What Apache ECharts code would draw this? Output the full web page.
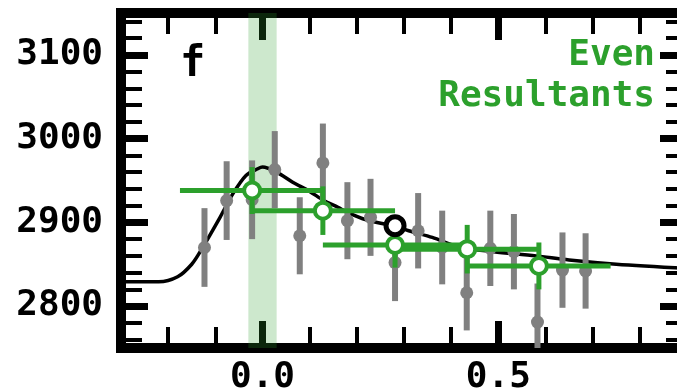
<!DOCTYPE html>
<html><head><meta charset="utf-8">
<script src="https://cdn.jsdelivr.net/npm/echarts@6/dist/echarts.min.js"></script>
<style>html,body{margin:0;padding:0;background:#fff;overflow:hidden;width:677px;height:392px}#c{width:700px;height:392px}</style>
</head><body><div id="c"></div>
<script>
// ---- data ----
const xMajorTicks = [0.0, 0.5];
const xMinorTicks = [-0.3, -0.2, -0.1, 0.1, 0.2, 0.3, 0.4, 0.6, 0.7, 0.8];
const yMajorTicks = [2800, 2900, 3000, 3100];
const yMinorTicks = [2760, 2780, 2820, 2840, 2860, 2880, 2920, 2940, 2960, 2980, 3020, 3040, 3060, 3080, 3120, 3140];

const curveX = [-0.30, -0.22, -0.18, -0.15, -0.13, -0.09, -0.063, -0.035, -0.01, 0.00, 0.03, 0.064, 0.10, 0.13, 0.16, 0.18, 0.22, 0.26, 0.28, 0.31, 0.36, 0.42, 0.49, 0.58, 0.65, 0.75, 0.90];
const curveY = [2829, 2829, 2835, 2850, 2867, 2906, 2934, 2956, 2964, 2966, 2960, 2948, 2937, 2926, 2918, 2912, 2903, 2898, 2896, 2890, 2882, 2870, 2865, 2860, 2855, 2850, 2845];

const grayX = [-0.123, -0.076, -0.022, 0.026, 0.079, 0.128, 0.180, 0.229, 0.281, 0.330, 0.381, 0.433, 0.483, 0.533, 0.583, 0.636, 0.685];
const grayY = [2870, 2926, 2927, 2963, 2884, 2971, 2902, 2906, 2852, 2890, 2870, 2816, 2869, 2865, 2781, 2843, 2842];
const grayErr = [47, 47, 47, 46, 46, 47, 46, 46, 46, 45, 44, 45, 45, 45, 46, 45, 45];

const greenX = [-0.022, 0.128, 0.281, 0.434, 0.586];
const greenY = [2938, 2914, 2873, 2868, 2848];
const greenXErr = [0.153, 0.153, 0.153, 0.153, 0.152];
const greenYErr = [28, 29, 27, 29, 28];

const blackX = [0.281];
const blackY = [2896];

const bandRange = [-0.03, 0.03];

// ---- chart ----
const GREEN = '#2ca02c';
const FONT = "'DejaVu Sans Mono', monospace";
const chart = echarts.init(document.getElementById('c'), null, {renderer: 'canvas'});

const gridPos = {left: 121, right: 13, top: 13, bottom: 44, outerBoundsMode: 'none', containLabel: false};
function xAx(grid, pos, ticks, len, w, labels, line) {
  return {
    type: 'value', gridIndex: grid, position: pos, min: -0.3, max: 0.9,
    splitLine: {show: false},
    axisLine: {show: line, onZero: false, lineStyle: {color: '#000', width: 10, cap: 'square'}},
    axisTick: {show: true, inside: true, length: len, customValues: ticks, lineStyle: {color: '#000', width: w}},
    axisLabel: {show: labels, customValues: ticks, formatter: v => v.toFixed(1), color: '#000', fontFamily: FONT, fontWeight: 'bold', fontSize: 36, margin: 12}
  };
}
function yAx(grid, pos, ticks, len, w, labels, line) {
  return {
    type: 'value', gridIndex: grid, position: pos, min: 2750, max: 3150,
    splitLine: {show: false},
    axisLine: {show: line, onZero: false, lineStyle: {color: '#000', width: 10, cap: 'square'}},
    axisTick: {show: true, inside: true, length: len, customValues: ticks, lineStyle: {color: '#000', width: w}},
    axisLabel: {show: labels, customValues: ticks, formatter: v => String(v), color: '#000', fontFamily: FONT, fontWeight: 'bold', fontSize: 36, margin: 18}
  };
}

const curveData = curveX.map((x, i) => [x, curveY[i]]);
const grayData = grayX.map((x, i) => [x, grayY[i], grayErr[i]]);
const greenData = greenX.map((x, i) => [x, greenY[i], greenXErr[i], greenYErr[i]]);
const blackData = blackX.map((x, i) => [x, blackY[i]]);

chart.setOption({
  animation: false,
  backgroundColor: '#fff',
  grid: [Object.assign({}, gridPos), Object.assign({}, gridPos)],
  xAxis: [
    xAx(0, 'bottom', xMajorTicks, 27, 7, true, true),
    xAx(0, 'top', xMajorTicks, 27, 7, false, true),
    xAx(1, 'bottom', xMinorTicks, 21, 4, false, false),
    xAx(1, 'top', xMinorTicks, 21, 4, false, false)
  ],
  yAxis: [
    yAx(0, 'left', yMajorTicks, 27, 7, true, true),
    yAx(0, 'right', yMajorTicks, 27, 7, false, true),
    yAx(1, 'left', yMinorTicks, 21, 4, false, false),
    yAx(1, 'right', yMinorTicks, 21, 4, false, false)
  ],
  series: [
    {
      type: 'line', xAxisIndex: 0, yAxisIndex: 0, data: curveData, smooth: 0.3,
      showSymbol: false, symbol: 'none', z: 3,
      lineStyle: {color: '#000', width: 3.5},
      markArea: {silent: true, itemStyle: {color: 'rgba(44,160,44,0.24)'}, data: [[{xAxis: bandRange[0]}, {xAxis: bandRange[1]}]]}
    },
    {
      type: 'custom', xAxisIndex: 0, yAxisIndex: 0, data: grayData, z: 4, clip: true,
      renderItem: function (params, api) {
        const x = api.value(0), y = api.value(1), e = api.value(2);
        const top = api.coord([x, y + e]), bot = api.coord([x, y - e]), c = api.coord([x, y]);
        return {type: 'group', children: [
          {type: 'line', shape: {x1: top[0], y1: top[1], x2: bot[0], y2: bot[1]}, style: {stroke: '#808080', lineWidth: 6}},
          {type: 'circle', shape: {cx: c[0], cy: c[1], r: 6.5}, style: {fill: '#808080'}}
        ]};
      }
    },
    {
      type: 'custom', xAxisIndex: 0, yAxisIndex: 0, data: greenData, z: 5, clip: true,
      renderItem: function (params, api) {
        const x = api.value(0), y = api.value(1), ex = api.value(2), ey = api.value(3);
        const l = api.coord([x - ex, y]), r = api.coord([x + ex, y]);
        const t = api.coord([x, y + ey]), b = api.coord([x, y - ey]);
        return {type: 'group', children: [
          {type: 'line', shape: {x1: l[0], y1: l[1], x2: r[0], y2: r[1]}, style: {stroke: GREEN, lineWidth: 5}},
          {type: 'line', shape: {x1: t[0], y1: t[1], x2: b[0], y2: b[1]}, style: {stroke: GREEN, lineWidth: 5}}
        ]};
      }
    },
    {
      type: 'scatter', xAxisIndex: 0, yAxisIndex: 0, data: greenData.map(d => [d[0], d[1]]), z: 6,
      symbol: 'circle', symbolSize: 16, itemStyle: {color: '#fff', borderColor: GREEN, borderWidth: 4, opacity: 1}
    },
    {
      type: 'scatter', xAxisIndex: 0, yAxisIndex: 0, data: blackData, z: 7,
      symbol: 'circle', symbolSize: 18, itemStyle: {color: '#fff', borderColor: '#000', borderWidth: 5, opacity: 1}
    },
    {type: 'scatter', xAxisIndex: 2, yAxisIndex: 2, data: [], silent: true},
    {type: 'scatter', xAxisIndex: 3, yAxisIndex: 3, data: [], silent: true},
    {type: 'scatter', xAxisIndex: 1, yAxisIndex: 1, data: [], silent: true}
  ],
  graphic: [
    {type: 'text', left: 180, top: 44, z: 100, style: {text: 'f', fill: '#000', font: "bold 42px 'DejaVu Sans Mono'"}},
    {type: 'text', right: 45, top: 38, z: 100, style: {text: 'Even', fill: GREEN, font: "bold 36px 'DejaVu Sans Mono'"}},
    {type: 'text', right: 45, top: 79, z: 100, style: {text: 'Resultants', fill: GREEN, font: "bold 36px 'DejaVu Sans Mono'"}}
  ]
});
</script></body></html>
